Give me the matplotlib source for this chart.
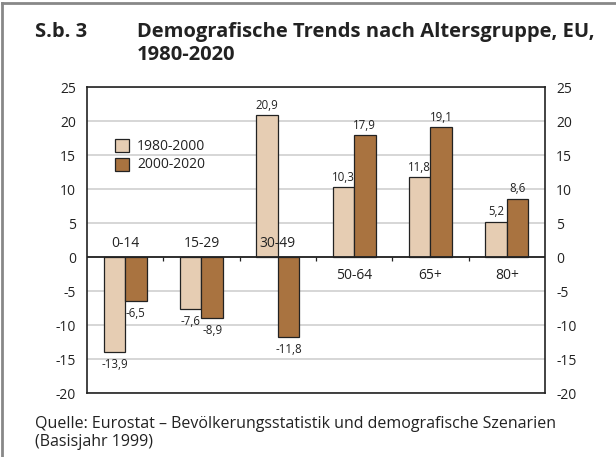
import numpy as np
import matplotlib.pyplot as plt
from matplotlib.patches import Rectangle

plt.rcParams['font.family'] = ['Open Sans', 'DejaVu Sans']
plt.rcParams['axes.unicode_minus'] = False

# age groups and change in population (%)
gruppen = ['0-14', '15-29', '30-49', '50-64', '65+', '80+']
werte_1980_2000 = [-13.9, -7.6, 20.9, 10.3, 11.8, 5.2]
werte_2000_2020 = [-6.5, -8.9, -11.8, 17.9, 19.1, 8.6]
serien = ['1980-2000', '2000-2020']
farben = ['#E6CDB3', '#A97340']

fig = plt.figure(figsize=(6.16, 4.57), dpi=100)
ax = fig.add_axes([0.1412, 0.140, 0.7435, 0.6696])

x = np.arange(len(gruppen))
b = 0.28
for k, (werte, farbe) in enumerate([(werte_1980_2000, farben[0]), (werte_2000_2020, farben[1])]):
    pos = x + (k - 0.5) * b
    ax.bar(pos, werte, width=b, color=farbe, edgecolor='#222222', linewidth=0.9, zorder=3)
    for p, v in zip(pos, werte):
        txt = ('%.1f' % v).replace('.', ',')
        ax.annotate(txt, (p, v), xytext=(0, 7 if v > 0 else -9), textcoords='offset points',
                    ha='center', va='center', fontsize=8.3, color='#222222')

# category names sit above the zero line where space allows
for i, g in enumerate(gruppen):
    y = 2.0 if i < 3 else -2.7
    ax.text(x[i], y, g, ha='center', va='center', fontsize=10, color='#222222')

ax.set_xlim(-0.5, len(gruppen) - 0.5)
ax.set_ylim(-20, 25)
ax.set_yticks(np.arange(-20, 26, 5))
ax.set_xticks([])
ax.yaxis.grid(True, color='#CFCFCF', linewidth=1.2, zorder=0)
ax.set_axisbelow(True)
ax.axhline(0, color='#222222', linewidth=1.3, zorder=4)
ax.vlines(np.arange(0.5, len(gruppen) - 0.5), -0.6, 0, color='#222222', linewidth=0.9, zorder=4)
ax.tick_params(axis='y', length=0, labelsize=10, labelright=True, pad=8, labelcolor='#222222')
for s in ax.spines.values():
    s.set_color('#222222')
    s.set_linewidth(1.2)

# legend
for k, name in enumerate(serien):
    fig.patches.append(Rectangle((115 / 616, 1 - (152 + 19 * k) / 457), 14 / 616, 13 / 457,
                                 transform=fig.transFigure, facecolor=farben[k],
                                 edgecolor='#222222', linewidth=0.9))
    fig.text(137 / 616, 1 - (146 + 19 * k) / 457, name, fontsize=10, va='center', color='#222222')

# heading
fig.text(35 / 616, 1 - 32 / 457, 'S.b. 3', fontsize=14.5, fontweight='bold', va='center', color='#222222')
fig.text(137 / 616, 1 - 32 / 457, 'Demografische Trends nach Altersgruppe, EU,', fontsize=14.5,
         fontweight='bold', va='center', color='#222222')
fig.text(137 / 616, 1 - 55 / 457, '1980-2020', fontsize=14.5, fontweight='bold', va='center', color='#222222')

# source note
fig.text(35 / 616, 1 - 424 / 457, 'Quelle: Eurostat \u2013 Bev\u00f6lkerungsstatistik und demografische Szenarien',
         fontsize=11.5, va='center', color='#222222')
fig.text(35 / 616, 1 - 442 / 457, '(Basisjahr 1999)', fontsize=11.5, va='center', color='#222222')

# frame lines along top and left edge
fig.add_artist(plt.Line2D([2.5 / 616, 1], [1 - 2.5 / 457, 1 - 2.5 / 457], color='#888888', linewidth=2,
                          transform=fig.transFigure))
fig.add_artist(plt.Line2D([2.5 / 616, 2.5 / 616], [0, 1 - 2.5 / 457], color='#888888', linewidth=2,
                          transform=fig.transFigure))

fig.savefig('out.png', dpi=100)
